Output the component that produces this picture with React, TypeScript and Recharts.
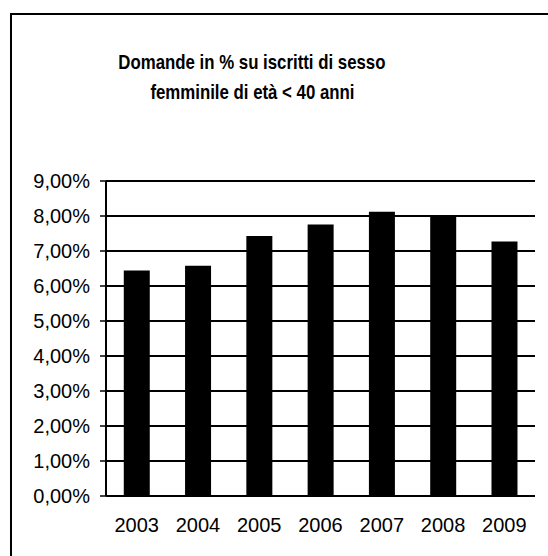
import React from 'react';
import { BarChart, Bar, XAxis, YAxis, CartesianGrid } from 'recharts';

const years = ['2003', '2004', '2005', '2006', '2007', '2008', '2009'];
const values = [6.44, 6.58, 7.43, 7.76, 8.12, 7.98, 7.27];
const yTicks = [0, 1, 2, 3, 4, 5, 6, 7, 8, 9];
const boundaryTicks = [0, 1, 2, 3, 4, 5, 6, 7];
const titleLines = ['Domande in % su iscritti di sesso', 'femminile di età < 40 anni'];

const data = years.map((y, i) => ({ year: y, value: values[i], idx: i + 0.5 }));

const FONT = '"Liberation Sans", Arial, sans-serif';
const fmt = (v: number) => `${v.toFixed(2).replace('.', ',')}%`;

export default function App() {
  return (
    <div style={{ position: 'absolute', left: 0, top: 0, width: 548, height: 556, background: '#fff', overflow: 'hidden' }}>
      <div style={{ position: 'absolute', left: 10, top: 13, width: 600, height: 600, borderLeft: '2px solid #000', borderTop: '2px solid #000' }} />
      <div style={{ position: 'absolute', left: 0, top: 47, width: 504, textAlign: 'center', fontFamily: FONT, fontWeight: 'bold', fontSize: 20.5, lineHeight: '30px', color: '#000' }}>
        {titleLines.map((t) => (
          <div key={t}>
            <span style={{ display: 'inline-block', transform: 'scaleX(0.82)', transformOrigin: 'center', whiteSpace: 'nowrap' }}>{t}</span>
          </div>
        ))}
      </div>
      <div style={{ position: 'absolute', left: 0, top: 0 }}>
        <BarChart width={548} height={556} data={data} margin={{ top: 181, right: 13, bottom: 20, left: 0 }} barCategoryGap="29%">
          <CartesianGrid xAxisId="cat" yAxisId="left" vertical={false} stroke="#000" strokeWidth={2} />
          <XAxis xAxisId="num" dataKey="idx" type="number" domain={[0, 7]} ticks={boundaryTicks} allowDataOverflow height={0} tickSize={6} tick={() => <g />} axisLine={{ stroke: '#000', strokeWidth: 2 }} tickLine={{ stroke: '#000', strokeWidth: 1.5 }} />
          <XAxis xAxisId="cat" dataKey="year" height={40} tickSize={0} tickMargin={22} axisLine={false} tickLine={false} tick={{ fill: '#000', fontSize: 20, fontFamily: FONT }} interval={0} />
          <YAxis yAxisId="left" width={106} domain={[0, 9]} ticks={yTicks} tickFormatter={fmt} tickSize={6} tickMargin={10} axisLine={{ stroke: '#000', strokeWidth: 2 }} tickLine={{ stroke: '#000', strokeWidth: 1.5 }} tick={{ fill: '#000', fontSize: 20, fontFamily: FONT }} interval={0} />
          <YAxis yAxisId="right" orientation="right" width={0} domain={[0, 9]} ticks={yTicks} tick={false} tickLine={false} axisLine={{ stroke: '#000', strokeWidth: 2 }} />
          <Bar xAxisId="cat" yAxisId="left" dataKey="value" fill="#000" isAnimationActive={false} />
        </BarChart>
      </div>
    </div>
  );
}
